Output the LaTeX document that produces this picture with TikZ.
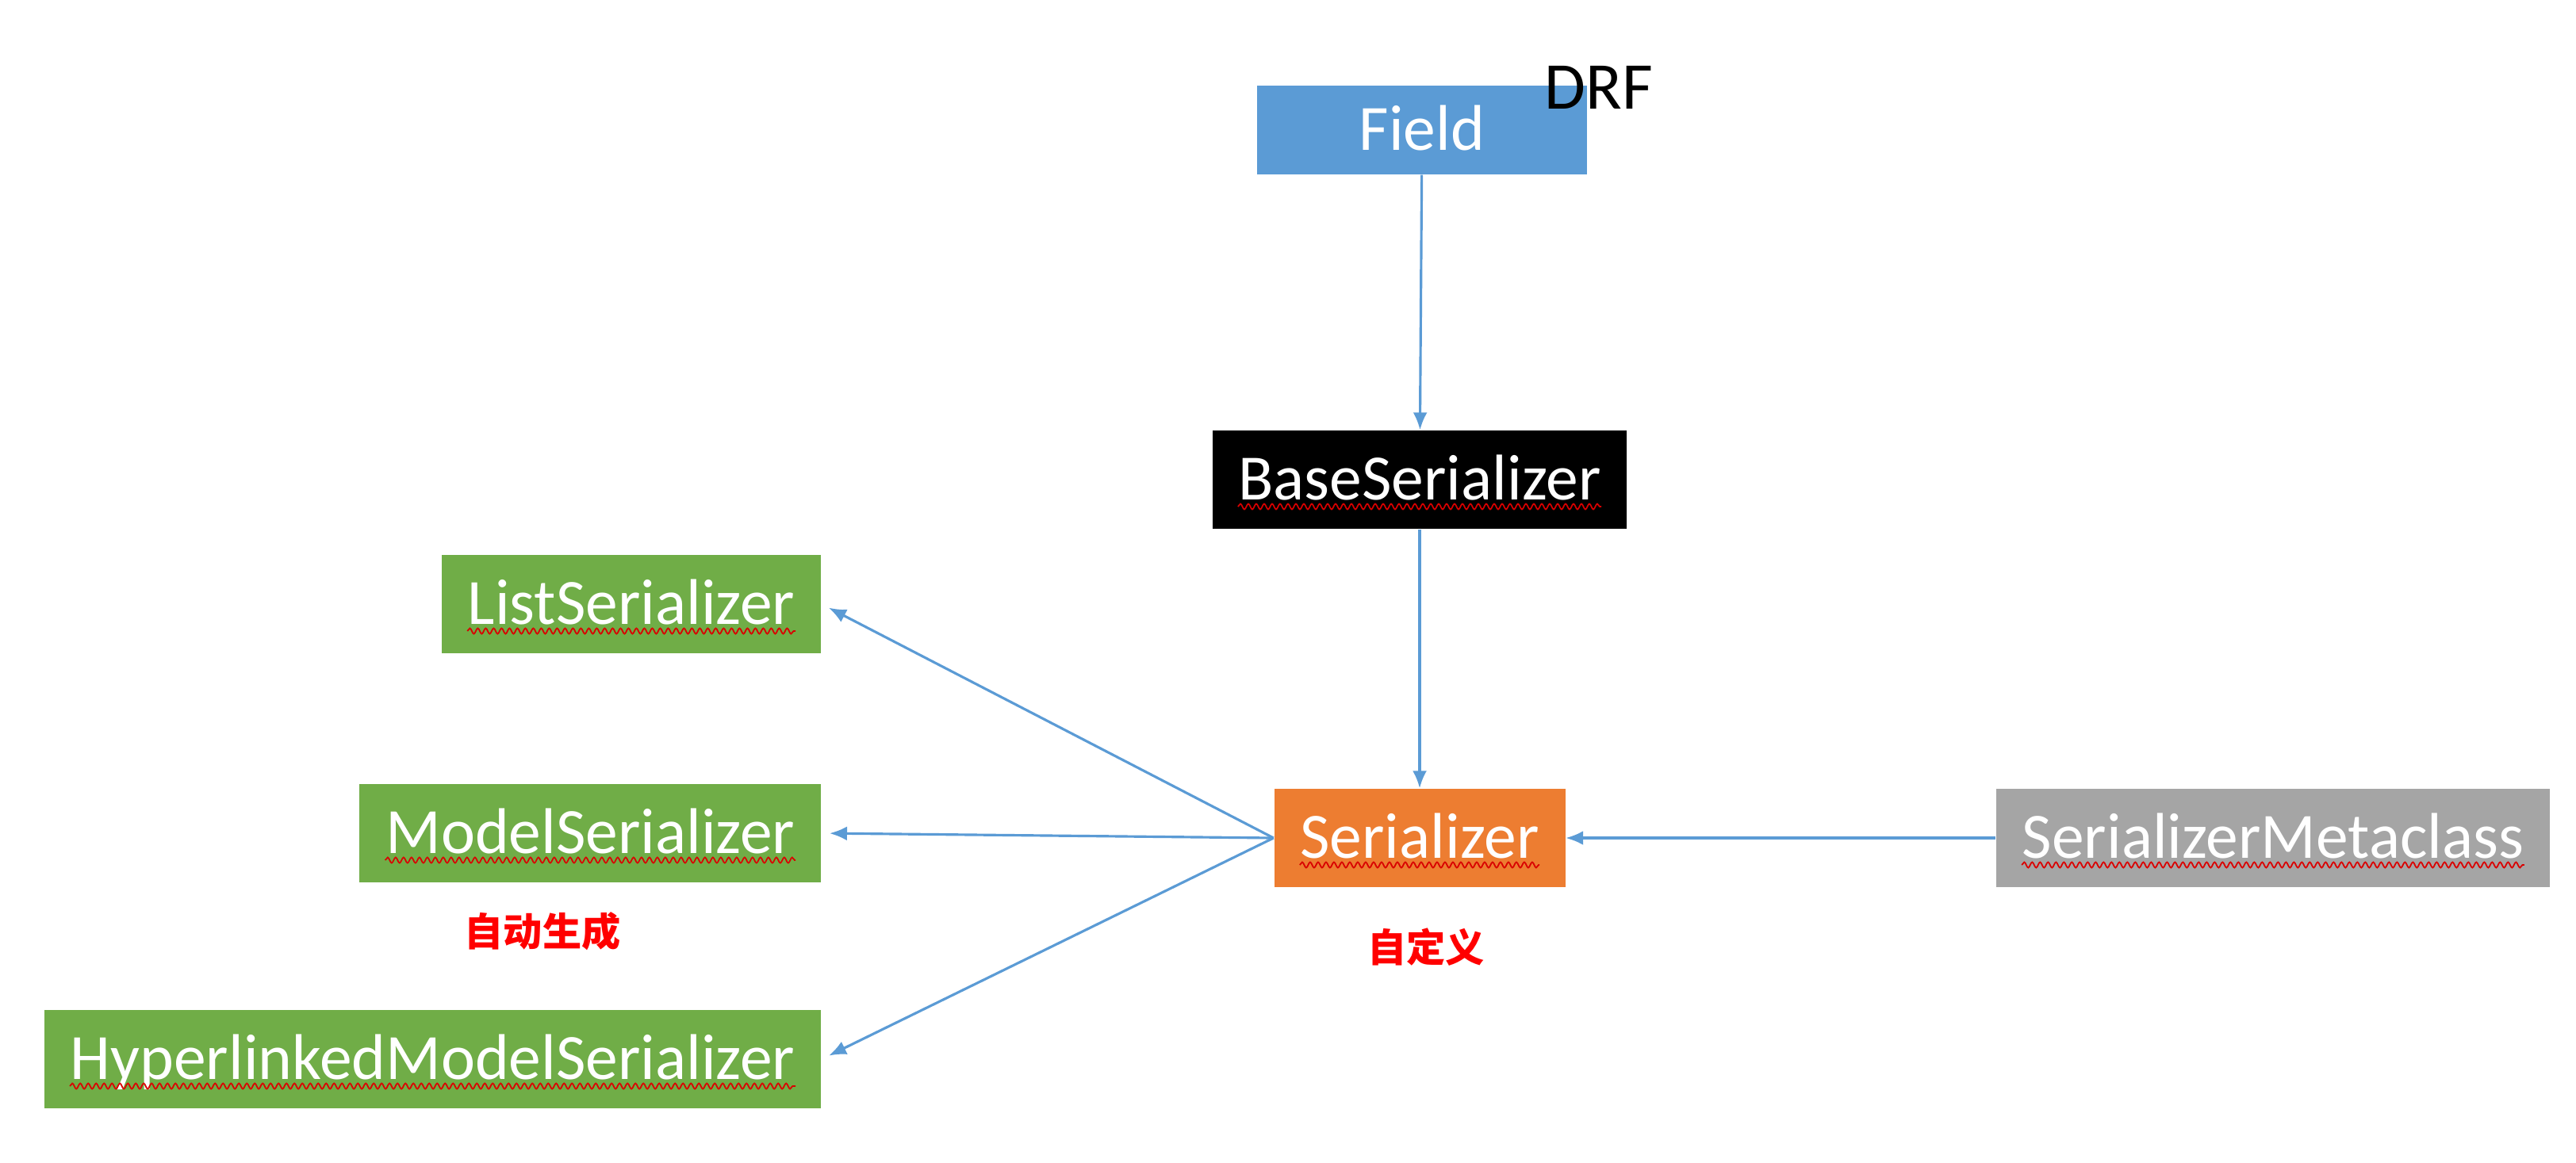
\documentclass[tikz,border=0pt]{standalone}
\usepackage{fontspec}
\setmainfont{Carlito}
\newfontfamily\cjk{Noto Sans CJK SC}
\usepackage{tikz}
\usetikzlibrary{calc,arrows.meta,decorations.pathmorphing}

\definecolor{fieldblue}{HTML}{5B9BD5}
\definecolor{serorange}{HTML}{ED7D31}
\definecolor{metagrey}{HTML}{A5A5A5}
\definecolor{subgreen}{HTML}{70AD47}
\definecolor{linkblue}{HTML}{5B9BD5}

\tikzset{
  box/.style={rectangle,inner xsep=0.33cm,inner ysep=0pt,minimum height=1.24cm,
    text height=0.6cm,text depth=0.1cm,text=white,font=\fontsize{23.2pt}{27pt}\selectfont},
  link/.style={-{Latex[length=2.2mm,width=1.8mm]},draw=linkblue,fill=linkblue,line width=0.9pt},
  wavy/.style={draw=red!85!black,line width=0.5pt,decorate,
    decoration={snake,amplitude=0.35mm,segment length=1mm}},
  note/.style={text=red,font=\cjk\bfseries\fontsize{14pt}{16pt}\selectfont}
}

\begin{document}
\begin{tikzpicture}
  \useasboundingbox (0,0) rectangle (32.48,-14.66);
  \node[box,fill=fieldblue,minimum width=4.16cm,minimum height=1.12cm](field)at(17.93,-1.64){Field};
  \node[anchor=base west,inner sep=0pt,font=\fontsize{24pt}{28pt}\selectfont](drf)at(19.47,-1.37){DRF};
  \node[box,fill=black](base)at(17.90,-6.05){BaseSerializer};
  \node[box,fill=serorange](ser)at(17.90,-10.57){Serializer};
  \node[box,fill=metagrey](meta)at(28.66,-10.57){SerializerMetaclass};
  \node[box,fill=subgreen,anchor=east](list)at(10.36,-7.62){ListSerializer};
  \node[box,fill=subgreen,anchor=east](model)at(10.36,-10.51){ModelSerializer};
  \node[box,fill=subgreen,anchor=east](hyper)at(10.36,-13.36){HyperlinkedModelSerializer};
  \node[note](auto)at(6.84,-11.75){自动生成};
  \node[note](custom)at(17.98,-11.95){自定义};
  % spelling marks under the class names
  \foreach \n in {base,ser,meta,list,model,hyper}
    \draw[wavy] ($(\n.base west)+(0.33,-0.09)$) -- ($(\n.base east)+(-0.33,-0.09)$);
  \draw[link](field)--(base);
  \draw[link](base)--(ser);
  \draw[link](meta)--(ser);
  \draw[link,shorten >=0.1cm](ser.west)--(list.east);
  \draw[link,shorten >=0.1cm](ser.west)--(model.east);
  \draw[link,shorten >=0.1cm](ser.west)--(hyper.east);
\end{tikzpicture}
\end{document}
